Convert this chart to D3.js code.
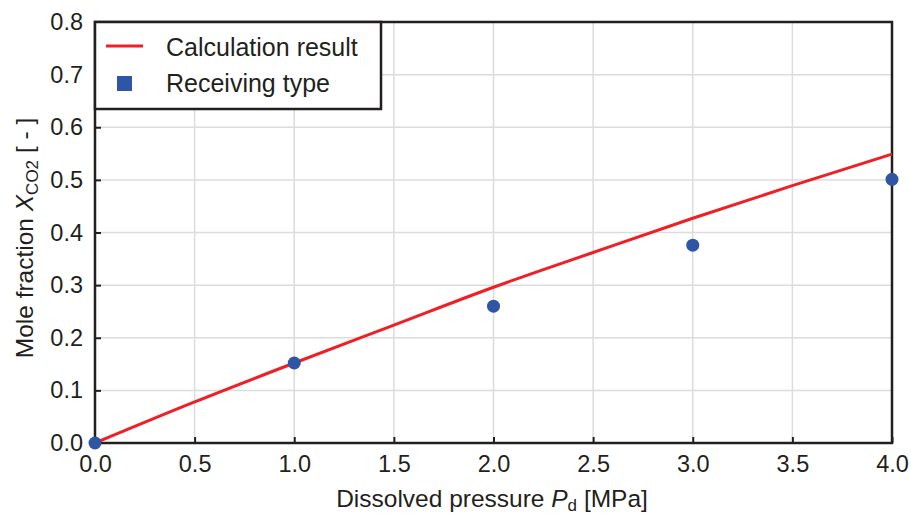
<!DOCTYPE html>
<html>
<head>
<meta charset="utf-8">
<script src="https://cdn.jsdelivr.net/npm/d3@7"></script>
<style>
  body { margin: 0; background: #fff; }
  text { font-family: "Liberation Sans", Arial, sans-serif; fill: #231f20; }
</style>
</head>
<body>
<div class="chart"></div>
<script>
// calculation curve
const calcX = [0, 0.5, 1.0, 1.5, 2.0, 2.5, 3.0, 3.5, 4.0];
const calcY = [0, 0.078, 0.152, 0.224, 0.296, 0.362, 0.427, 0.489, 0.549];

// measured points (receiving type)
const measX = [0, 1, 2, 3, 4];
const measY = [0, 0.152, 0.26, 0.376, 0.501];

const xTicks = [0, 0.5, 1.0, 1.5, 2.0, 2.5, 3.0, 3.5, 4.0];
const yTicks = [0, 0.1, 0.2, 0.3, 0.4, 0.5, 0.6, 0.7, 0.8];

const w = 911, h = 516;
const pLeft = 95, pRight = 892, pTop = 22, pBottom = 443;

const svg = d3.select(".chart").append("svg")
    .attr("width", w)
    .attr("height", h);

const xScale = d3.scaleLinear().domain([0, 4]).range([pLeft, pRight]);
const yScale = d3.scaleLinear().domain([0, 0.8]).range([pBottom, pTop]);

// grid
svg.append("g").selectAll("line").data(xTicks).enter().append("line")
    .attr("x1", d => xScale(d)).attr("x2", d => xScale(d))
    .attr("y1", pTop).attr("y2", pBottom)
    .attr("stroke", "#dcdcdc").attr("stroke-width", 1.5);
svg.append("g").selectAll("line").data(yTicks).enter().append("line")
    .attr("x1", pLeft).attr("x2", pRight)
    .attr("y1", d => yScale(d)).attr("y2", d => yScale(d))
    .attr("stroke", "#dcdcdc").attr("stroke-width", 1.5);

// axes with inward ticks
const xAxis = d3.axisBottom(xScale).tickValues(xTicks)
    .tickSize(-6).tickPadding(12).tickFormat(d3.format(".1f"));
const yAxis = d3.axisLeft(yScale).tickValues(yTicks)
    .tickSize(-6).tickPadding(12).tickFormat(d3.format(".1f"));

const gx = svg.append("g")
    .attr("transform", "translate(0," + pBottom + ")")
    .call(xAxis);
const gy = svg.append("g")
    .attr("transform", "translate(" + pLeft + ",0)")
    .call(yAxis);

[gx, gy].forEach(g => {
    g.select(".domain").remove();
    g.selectAll(".tick line").attr("stroke", "#231f20").attr("stroke-width", 2);
    g.selectAll(".tick text")
        .style("font-family", "'Liberation Sans', Arial, sans-serif")
        .style("font-size", "23.5px").attr("fill", "#231f20");
});

// frame
svg.append("rect")
    .attr("x", pLeft).attr("y", pTop)
    .attr("width", pRight - pLeft).attr("height", pBottom - pTop)
    .attr("fill", "none").attr("stroke", "#231f20").attr("stroke-width", 2.5);

// calculation line
const line = d3.line()
    .x((d, i) => xScale(calcX[i]))
    .y(d => yScale(d))
    .curve(d3.curveMonotoneX);

svg.append("path")
    .datum(calcY)
    .attr("d", line)
    .attr("fill", "none")
    .attr("stroke", "#ee1f25")
    .attr("stroke-width", 3);

// measured points
svg.append("g").selectAll("circle").data(measY).enter().append("circle")
    .attr("cx", (d, i) => xScale(measX[i]))
    .attr("cy", d => yScale(d))
    .attr("r", 6.5)
    .attr("fill", "#2f55a6");

// legend
const lg = svg.append("g");
lg.append("rect")
    .attr("x", pLeft).attr("y", pTop)
    .attr("width", 286).attr("height", 87)
    .attr("fill", "#fff").attr("stroke", "#231f20").attr("stroke-width", 2.5);
lg.append("line")
    .attr("x1", 106).attr("x2", 143).attr("y1", 46).attr("y2", 46)
    .attr("stroke", "#ee1f25").attr("stroke-width", 3);
lg.append("rect")
    .attr("x", 117).attr("y", 76).attr("width", 15).attr("height", 15)
    .attr("fill", "#2f55a6");
lg.append("text").attr("x", 166).attr("y", 56)
    .style("font-size", "25px").text("Calculation result");
lg.append("text").attr("x", 166).attr("y", 92)
    .style("font-size", "25px").text("Receiving type");

// x label
const xl = svg.append("text")
    .attr("x", 492).attr("y", 507)
    .attr("text-anchor", "middle")
    .style("font-size", "24.5px");
xl.append("tspan").text("Dissolved pressure ");
xl.append("tspan").style("font-style", "italic").text("P");
xl.append("tspan").attr("dy", 4).style("font-size", "17px").text("d");
xl.append("tspan").attr("dy", -4).text(" [MPa]");

// y label
const yl = svg.append("text")
    .attr("transform", "translate(33,238) rotate(-90)")
    .attr("text-anchor", "middle")
    .style("font-size", "24.5px");
yl.append("tspan").text("Mole fraction ");
yl.append("tspan").style("font-style", "italic").text("X");
yl.append("tspan").attr("dy", 5).style("font-size", "17px").text("CO2");
yl.append("tspan").attr("dy", -5).text(" [ - ]");
</script>
</body>
</html>
